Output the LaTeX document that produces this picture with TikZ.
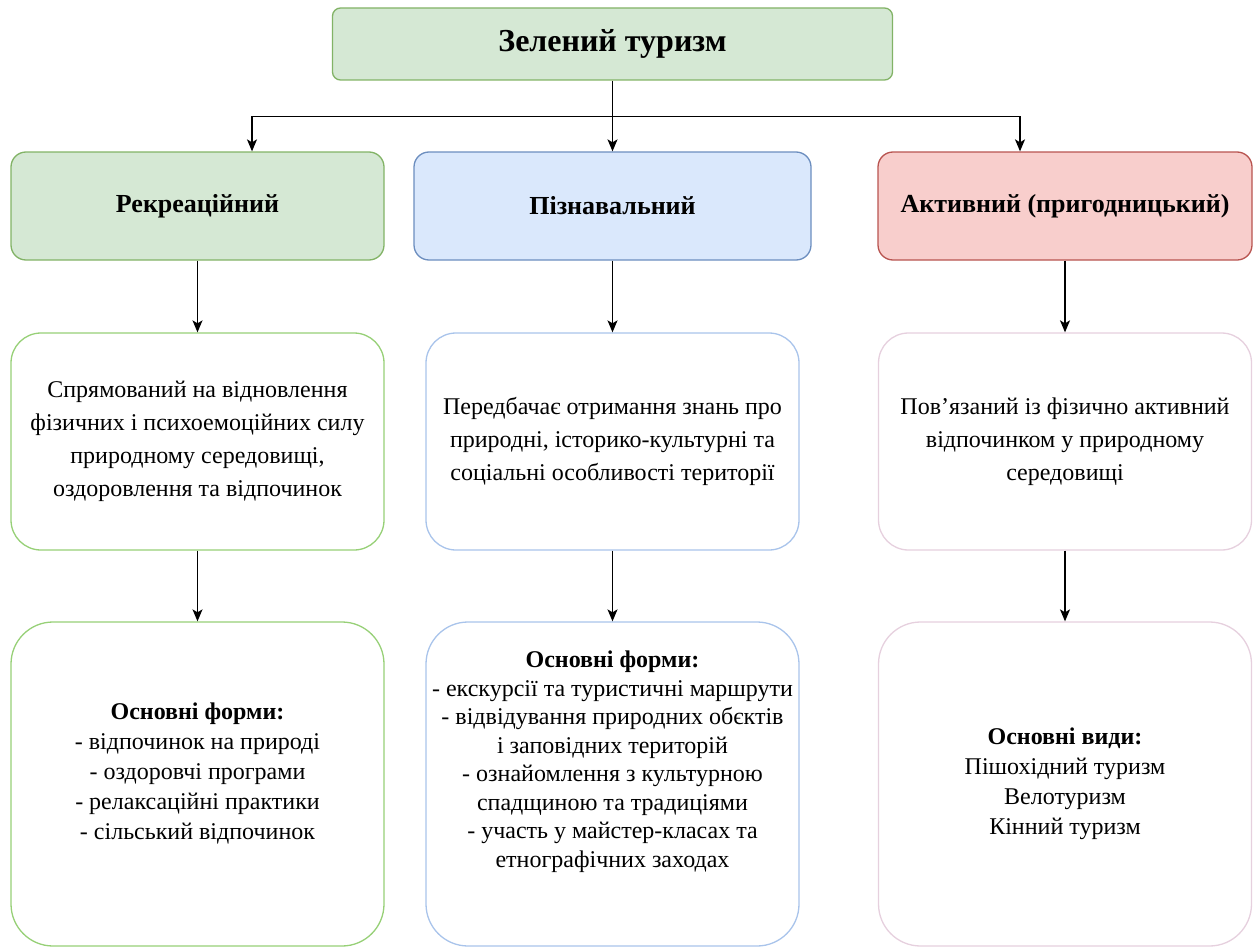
\documentclass[tikz,border=0pt]{standalone}
\usepackage{fontspec}
\setmainfont{Liberation Serif}
\usepackage{tikz}
\usetikzlibrary{
  calc
  , arrows.meta
  , positioning
}
\definecolor{grfill}{HTML}{D5E8D4}
\definecolor{grline}{HTML}{82B366}
\definecolor{grlite}{HTML}{97D077}
\definecolor{blfill}{HTML}{DAE8FC}
\definecolor{blline}{HTML}{6C8EBF}
\definecolor{bllite}{HTML}{A9C4EB}
\definecolor{rdfill}{HTML}{F8CECC}
\definecolor{rdline}{HTML}{B85450}
\definecolor{rdlite}{HTML}{E6D0DE}
\tikzset{
  box/.style={draw, rectangle, line width=1.3pt, align=center,
    inner sep=0pt, font=\fontsize{24}{33}\selectfont},
  headbox/.style={box, rounded corners=15pt, minimum height=108pt,
    font=\fontsize{26}{30}\selectfont\bfseries},
  descbox/.style={box, rounded corners=30pt, minimum height=217pt,
    minimum width=373pt, fill=white},
  formbox/.style={box, rounded corners=42pt, minimum height=324pt,
    minimum width=373pt, fill=white, font=\fontsize{24}{30}\selectfont},
  arr/.style={-{Stealth[length=12pt, width=10pt, inset=3pt]}, line width=1.3pt}
}

\begin{document}
\begin{tikzpicture}[x=1pt, y=-1pt]
      \useasboundingbox (0,0) rectangle (1257,947);

      \node [box, rounded corners=8pt, minimum width=560pt,
        minimum height=72pt, fill=grfill, draw=grline,
        font=\fontsize{32}{36}\selectfont\bfseries] (top) at (612.5,44)
        {Зелений туризм};

      % second row
      \node [headbox, minimum width=373pt, fill=grfill, draw=grline]
        (rek) at (197.5,206) {Рекреаційний};
      \node [headbox, minimum width=397pt, fill=blfill, draw=blline]
        (piz) at (612.5,206) {Пізнавальний};
      \node [headbox, minimum width=374pt, fill=rdfill, draw=rdline]
        (akt) at (1065,206) {Активний (пригодницький)};

      % descriptions
      \node [descbox, draw=grlite] (rekd) at (197.5,441.5)
        {Спрямований на відновлення\\
        фізичних і психоемоційних силу\\
        природному середовищі,\\
        оздоровлення та відпочинок};
      \node [descbox, draw=bllite] (pizd) at (612.5,441.5)
        {Передбачає отримання знань про\\
        природні, історико-культурні та\\
        соціальні особливості території};
      \node [descbox, draw=rdlite] (aktd) at (1065,441.5)
        {Пов’язаний із фізично активний\\
        відпочинком у природному\\
        середовищі};

      % forms
      \node [formbox, draw=grlite, text depth=26pt] (rekf) at (197.5,784)
        {\textbf{Основні форми:}\\
        - відпочинок на природі\\
        - оздоровчі програми\\
        - релаксаційні практики\\
        - сільський відпочинок};
      \node [formbox, draw=bllite, font=\fontsize{24}{28.5}\selectfont,
        text depth=50pt] (pizf) at (612.5,784)
        {\textbf{Основні форми:}\\
        - екскурсії та туристичні маршрути\\
        - відвідування природних обєктів\\
        і заповідних територій\\
        - ознайомлення з культурною\\
        спадщиною та традиціями\\
        - участь у майстер-класах та\\
        етнографічних заходах};
      \node [formbox, draw=rdlite] (aktf) at (1065,784)
        {\textbf{Основні види:}\\
        Пішохідний туризм\\
        Велотуризм\\
        Кінний туризм};

      \coordinate (split) at ($(top.south)+(0,36)$);
      \draw [line width=1.3pt] (top.south) -- (split);
      \draw [arr] (split) -| ([xshift=54.5pt]rek.north);
      \draw [arr] (split) -- (piz.north);
      \draw [arr] (split) -| ([xshift=-45pt]akt.north);

      \draw [arr] (rek) -- (rekd);
      \draw [arr] (piz) -- (pizd);
      \draw [arr] (akt) -- (aktd);
      \draw [arr] (rekd) -- (rekf);
      \draw [arr] (pizd) -- (pizf);
      \draw [arr] (aktd) -- (aktf);
\end{tikzpicture}
\end{document}
